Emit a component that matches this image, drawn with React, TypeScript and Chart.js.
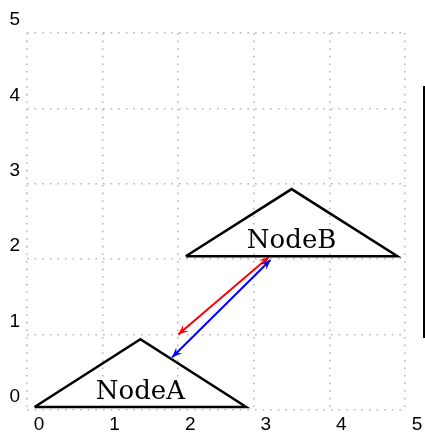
import React, { useEffect, useRef } from 'react';
import { Chart, registerables } from 'chart.js';

Chart.register(...registerables);

// ---- data ----
const tickValues = [0, 1, 2, 3, 4, 5];
const nodeNames = ['NodeA', 'NodeB'];
const nodeLabelX = [1.5, 3.5];
const nodeLabelY = [0.15, 2.15];

const triangleAX = [0.1, 2.9, 1.5, 0.1];
const triangleAY = [0.04, 0.04, 0.94, 0.04];
const triangleBX = [2.1, 4.9, 3.5, 2.1];
const triangleBY = [2.04, 2.04, 2.93, 2.04];

const redArrowX = [3.2, 2.0];
const redArrowY = [2.03, 1.0];
const blueArrowX = [3.22, 1.92];
const blueArrowY = [1.99, 0.7];

const toPoints = (xs: number[], ys: number[]) => xs.map((x, i) => ({ x, y: ys[i] }));

const arrowHeads = {
  id: 'arrowHeads',
  afterDatasetsDraw(chart: any) {
    const { ctx } = chart;
    chart.data.datasets.forEach((ds: any, di: number) => {
      if (!ds.isArrow) return;
      const meta = chart.getDatasetMeta(di);
      const pts = meta.data;
      if (pts.length < 2) return;
      const ends = [
        [pts[0], pts[1]],
        [pts[pts.length - 1], pts[pts.length - 2]],
      ];
      ctx.save();
      ctx.fillStyle = ds.borderColor;
      ends.forEach(([tip, other]: any) => {
        const dx = tip.x - other.x;
        const dy = tip.y - other.y;
        const len = Math.hypot(dx, dy) || 1;
        const ux = dx / len, uy = dy / len;
        const nx = -uy, ny = ux;
        const L = 10, W = 4.2;
        ctx.beginPath();
        ctx.moveTo(tip.x, tip.y);
        ctx.lineTo(tip.x - L * ux + W * nx, tip.y - L * uy + W * ny);
        ctx.lineTo(tip.x - 0.6 * L * ux, tip.y - 0.6 * L * uy);
        ctx.lineTo(tip.x - L * ux - W * nx, tip.y - L * uy - W * ny);
        ctx.closePath();
        ctx.fill();
      });
      ctx.restore();
    });
  },
};

const nodeText = {
  id: 'nodeText',
  afterDatasetsDraw(chart: any) {
    const { ctx, scales } = chart;
    ctx.save();
    ctx.font = '26px "DejaVu Serif"';
    ctx.fillStyle = '#000';
    ctx.textAlign = 'center';
    ctx.textBaseline = 'alphabetic';
    nodeNames.forEach((name, i) => {
      ctx.fillText(name, scales.x.getPixelForValue(nodeLabelX[i]), scales.y.getPixelForValue(nodeLabelY[i]));
    });
    ctx.restore();
  },
};

const legendFrame = {
  id: 'legendFrame',
  afterDraw(chart: any) {
    const { ctx, chartArea } = chart;
    ctx.save();
    ctx.fillStyle = '#ffffff';
    ctx.strokeStyle = '#000';
    ctx.lineWidth = 2;
    const x = chartArea.right + 19;
    const y = chartArea.top + 54;
    ctx.fillRect(x, y, 40, 250);
    ctx.strokeRect(x, y, 40, 250);
    ctx.restore();
  },
};

export default function App() {
  const ref = useRef<HTMLCanvasElement | null>(null);

  useEffect(() => {
    if (!ref.current) return;
    const tickFont = { family: '"Liberation Sans", Arial, sans-serif', size: 19 };
    const chart = new Chart(ref.current, {
      type: 'line',
      data: {
        datasets: [
          {
            data: toPoints(triangleAX, triangleAY),
            borderColor: '#000',
            borderWidth: 2.5,
            borderJoinStyle: 'miter',
            pointRadius: 0,
            fill: false,
            tension: 0,
          },
          {
            data: toPoints(triangleBX, triangleBY),
            borderColor: '#000',
            borderWidth: 2.5,
            borderJoinStyle: 'miter',
            pointRadius: 0,
            fill: false,
            tension: 0,
          },
          {
            data: toPoints(redArrowX, redArrowY),
            borderColor: '#ff0000',
            borderWidth: 2,
            pointRadius: 0,
            fill: false,
            tension: 0,
            isArrow: true,
          } as any,
          {
            data: toPoints(blueArrowX, blueArrowY),
            borderColor: '#0000ff',
            borderWidth: 2,
            pointRadius: 0,
            fill: false,
            tension: 0,
            isArrow: true,
          } as any,
        ],
      },
      options: {
        animation: false,
        responsive: true,
        maintainAspectRatio: false,
        layout: { padding: { top: 33, right: 20, left: 0, bottom: 0 } },
        plugins: { legend: { display: false }, tooltip: { enabled: false } },
        scales: {
          x: {
            type: 'linear',
            min: tickValues[0],
            max: tickValues[tickValues.length - 1],
            afterFit: (s: any) => { s.height = 24; },
            afterBuildTicks: (s: any) => { s.ticks = tickValues.map((v) => ({ value: v })); },
            grid: { color: '#b8b8b8', lineWidth: 1.6, drawTicks: false },
            border: { display: false, dash: [1.6, 6] },
            ticks: { padding: 3, labelOffset: 12, font: tickFont, color: '#000', maxRotation: 0 },
          },
          y: {
            type: 'linear',
            min: tickValues[0],
            max: tickValues[tickValues.length - 1],
            afterFit: (s: any) => { s.width = 27; },
            afterBuildTicks: (s: any) => { s.ticks = tickValues.map((v) => ({ value: v })); },
            grid: { color: '#b8b8b8', lineWidth: 1.6, drawTicks: false },
            border: { display: false, dash: [1.6, 6] },
            ticks: { padding: 7, labelOffset: -13, font: tickFont, color: '#000' },
          },
        },
      } as any,
      plugins: [arrowHeads, nodeText, legendFrame],
    });
    return () => chart.destroy();
  }, []);

  return (
    <div style={{ position: 'fixed', left: 0, top: 0, width: 425, height: 434, background: '#fff' }}>
      <canvas ref={ref} />
    </div>
  );
}
